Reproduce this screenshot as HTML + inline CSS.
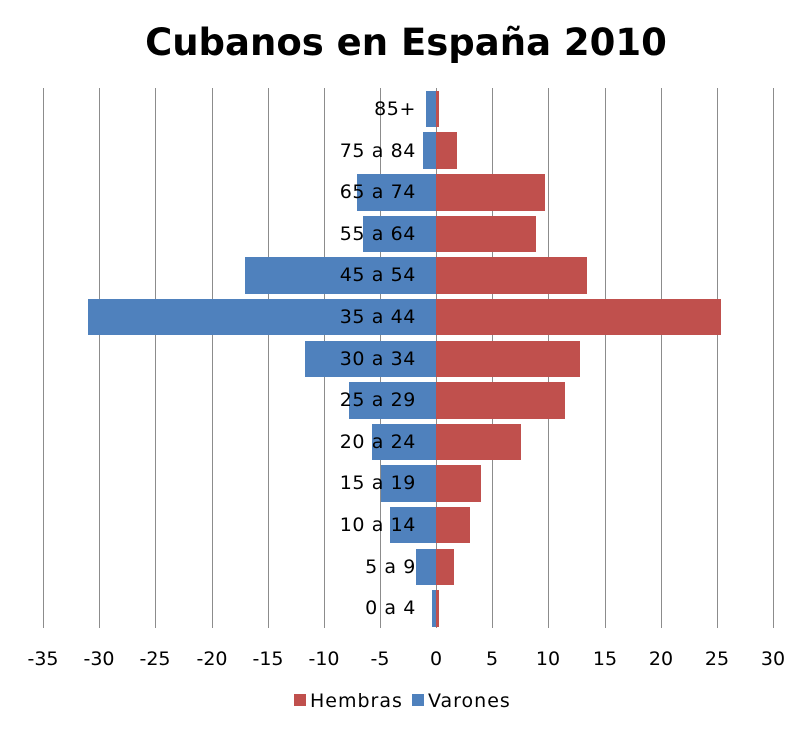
<!DOCTYPE html>
<html><head><meta charset="utf-8"><style>
html,body{margin:0;padding:0;background:#fff;}
svg{display:block;font-family:"DejaVu Sans","Liberation Sans",sans-serif;}
</style></head><body>
<svg width="812" height="733" viewBox="0 0 812 733" xmlns="http://www.w3.org/2000/svg">
<rect width="812" height="733" fill="#fff"/>
<text x="406" y="55" text-anchor="middle" font-size="37" font-weight="bold" fill="#000">Cubanos en España 2010</text>
<g stroke="#8c8c8c" stroke-width="1">
<line x1="43.5" y1="88" x2="43.5" y2="628"/>
<line x1="99.5" y1="88" x2="99.5" y2="628"/>
<line x1="155.5" y1="88" x2="155.5" y2="628"/>
<line x1="212.5" y1="88" x2="212.5" y2="628"/>
<line x1="268.5" y1="88" x2="268.5" y2="628"/>
<line x1="324.5" y1="88" x2="324.5" y2="628"/>
<line x1="380.5" y1="88" x2="380.5" y2="628"/>
<line x1="436.5" y1="88" x2="436.5" y2="628"/>
<line x1="492.5" y1="88" x2="492.5" y2="628"/>
<line x1="548.5" y1="88" x2="548.5" y2="628"/>
<line x1="605.5" y1="88" x2="605.5" y2="628"/>
<line x1="661.5" y1="88" x2="661.5" y2="628"/>
<line x1="717.5" y1="88" x2="717.5" y2="628"/>
<line x1="773.5" y1="88" x2="773.5" y2="628"/>
</g>
<g fill="#4f81bd">
<rect x="426" y="91" width="10" height="36"/>
<rect x="423" y="132" width="13" height="37"/>
<rect x="357" y="174" width="79" height="37"/>
<rect x="363" y="216" width="73" height="36"/>
<rect x="245" y="257" width="191" height="37"/>
<rect x="88" y="299" width="348" height="36"/>
<rect x="305" y="341" width="131" height="36"/>
<rect x="349" y="382" width="87" height="37"/>
<rect x="372" y="424" width="64" height="36"/>
<rect x="381" y="465" width="55" height="37"/>
<rect x="390" y="507" width="46" height="36"/>
<rect x="416" y="549" width="20" height="36"/>
<rect x="432" y="590" width="4" height="37"/>
</g>
<g fill="#c0504d">
<rect x="436" y="91" width="3" height="36"/>
<rect x="436" y="132" width="21" height="37"/>
<rect x="436" y="174" width="109" height="37"/>
<rect x="436" y="216" width="100" height="36"/>
<rect x="436" y="257" width="151" height="37"/>
<rect x="436" y="299" width="285" height="36"/>
<rect x="436" y="341" width="144" height="36"/>
<rect x="436" y="382" width="129" height="37"/>
<rect x="436" y="424" width="85" height="36"/>
<rect x="436" y="465" width="45" height="37"/>
<rect x="436" y="507" width="34" height="36"/>
<rect x="436" y="549" width="18" height="36"/>
<rect x="436" y="590" width="3" height="37"/>
</g>
<g font-size="19" text-anchor="end" fill="#000" letter-spacing="0.6">
<text x="416" y="115">85+</text>
<text x="416" y="157">75 a 84</text>
<text x="416" y="198">65 a 74</text>
<text x="416" y="240">55 a 64</text>
<text x="416" y="281">45 a 54</text>
<text x="416" y="323">35 a 44</text>
<text x="416" y="365">30 a 34</text>
<text x="416" y="406">25 a 29</text>
<text x="416" y="448">20 a 24</text>
<text x="416" y="489">15 a 19</text>
<text x="416" y="531">10 a 14</text>
<text x="416" y="573">5 a 9</text>
<text x="416" y="614">0 a 4</text>
</g>
<g font-size="19" text-anchor="middle" fill="#000">
<text x="43" y="665">-35</text>
<text x="99" y="665">-30</text>
<text x="155" y="665">-25</text>
<text x="212" y="665">-20</text>
<text x="268" y="665">-15</text>
<text x="324" y="665">-10</text>
<text x="380" y="665">-5</text>
<text x="436" y="665">0</text>
<text x="492" y="665">5</text>
<text x="548" y="665">10</text>
<text x="605" y="665">15</text>
<text x="661" y="665">20</text>
<text x="717" y="665">25</text>
<text x="773" y="665">30</text>
</g>
<rect x="294" y="694" width="12" height="12" fill="#c0504d"/>
<text x="310" y="707" font-size="19" letter-spacing="1">Hembras</text>
<rect x="412" y="694" width="12" height="12" fill="#4f81bd"/>
<text x="428" y="707" font-size="19" letter-spacing="1">Varones</text>
</svg>
</body></html>
